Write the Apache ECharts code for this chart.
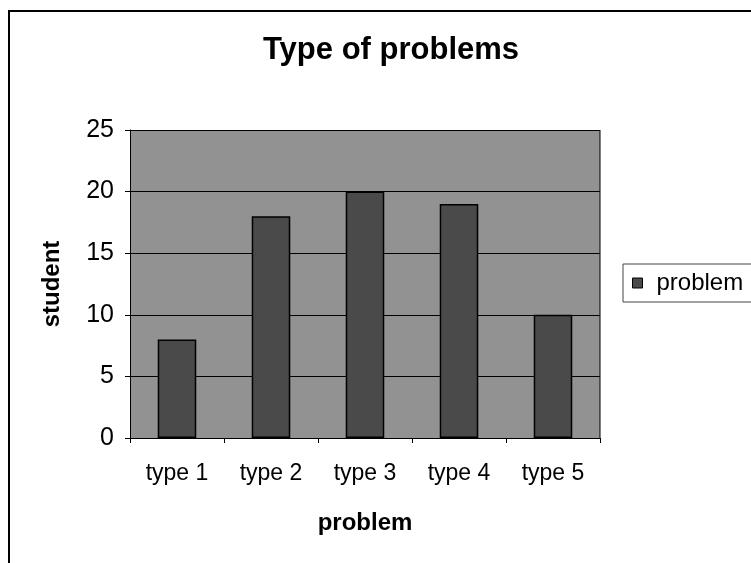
<!DOCTYPE html>
<html><head><meta charset="utf-8">
<script src="https://cdn.jsdelivr.net/npm/echarts@6/dist/echarts.min.js"></script>
<style>html,body{margin:0;padding:0;background:#fff}#c{width:751px;height:563px}</style>
</head><body><div id="c"></div>
<script>
var categories = ['type 1', 'type 2', 'type 3', 'type 4', 'type 5'];
var problemValues = [8, 18, 20, 19, 10];
var seriesName = 'problem';
var chart = echarts.init(document.getElementById('c'), null, {renderer: 'canvas'});
var F = '"Liberation Sans", Arial, sans-serif';
chart.setOption({
  animation: false,
  backgroundColor: '#fff',
  title: {text: 'Type of problems', left: 386, top: 30, textAlign: 'center',
    textStyle: {fontFamily: F, fontSize: 31, fontWeight: 'bold', color: '#000'}},
  legend: {data: [seriesName], left: 623, top: 264, orient: 'vertical',
    itemWidth: 10, itemHeight: 10, itemGap: 0, padding: [7, 14, 7, 9],
    borderColor: '#444', borderWidth: 1, backgroundColor: '#fff', icon: 'rect',
    itemStyle: {borderColor: '#000', borderWidth: 1},
    textStyle: {fontFamily: F, fontSize: 24, color: '#000', padding: [0,0,0,9]}},
  grid: {left: 130, right: 151, top: 130, bottom: 125, show: true,
    backgroundColor: '#929292', borderWidth: 0},
  xAxis: {type: 'category', data: categories, name: 'problem', nameLocation: 'middle', nameGap: 73,
    nameTextStyle: {fontFamily: F, fontSize: 24, fontWeight: 'bold', color: '#000'},
    axisLine: {lineStyle: {color: '#000', width: 1}},
    axisTick: {show: true, length: 5, lineStyle: {color: '#000'}},
    axisLabel: {fontFamily: F, fontSize: 23, color: '#000', margin: 24}},
  yAxis: {type: 'value', min: 0, max: 25, interval: 5, name: 'student', nameLocation: 'middle', nameGap: 66,
    nameTextStyle: {fontFamily: F, fontSize: 24, fontWeight: 'bold', color: '#000'},
    axisLine: {show: true, lineStyle: {color: '#000'}},
    axisTick: {show: true, length: 5, lineStyle: {color: '#000'}},
    axisLabel: {fontFamily: F, fontSize: 25, color: '#000', margin: 16},
    splitLine: {show: true, lineStyle: {color: '#000', width: 1}}},
  series: [{name: seriesName, type: 'bar', data: problemValues, barWidth: '41%',
    itemStyle: {color: '#4a4a4a', borderColor: '#000', borderWidth: 1.5}}],
  graphic: [
    {type: 'line', shape: {x1: 8, y1: 11, x2: 751, y2: 11}, style: {stroke: '#000', lineWidth: 2}},
    {type: 'line', shape: {x1: 9, y1: 11, x2: 9, y2: 563}, style: {stroke: '#000', lineWidth: 2}},
    {type: 'line', shape: {x1: 600, y1: 130, x2: 600, y2: 438}, style: {stroke: '#000', lineWidth: 1}}
  ]
});
</script></body></html>
